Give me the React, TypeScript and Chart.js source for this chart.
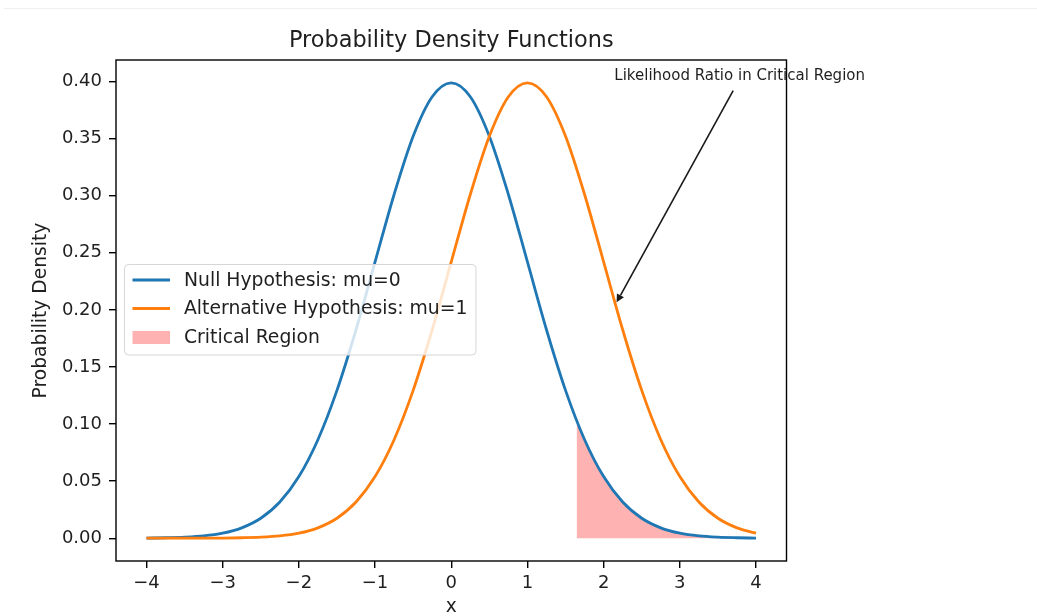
import React, { useEffect, useRef } from "react";
import { Chart, registerables } from "chart.js";

Chart.register(...registerables);

// ---- data ----
const xValues = [
  -4, -3.75, -3.5, -3.25, -3, -2.75, -2.5, -2.25, -2, -1.75, -1.5, -1.25, -1, -0.75, -0.5, -0.25, 0,
  0.25, 0.5, 0.75, 1, 1.25, 1.5, 1.75, 2, 2.25, 2.5, 2.75, 3, 3.25, 3.5, 3.75, 4,
];
const nullDensity = [
  0.0001, 0.0004, 0.0009, 0.002, 0.0044, 0.0091, 0.0175, 0.0317, 0.054, 0.0863, 0.1295, 0.1826, 0.242,
  0.3011, 0.3521, 0.3867, 0.3989, 0.3867, 0.3521, 0.3011, 0.242, 0.1826, 0.1295, 0.0863, 0.054, 0.0317,
  0.0175, 0.0091, 0.0044, 0.002, 0.0009, 0.0004, 0.0001,
];
const altDensity = [
  0.0, 0.0, 0.0, 0.0, 0.0001, 0.0004, 0.0009, 0.002, 0.0044, 0.0091, 0.0175, 0.0317, 0.054, 0.0863,
  0.1295, 0.1826, 0.242, 0.3011, 0.3521, 0.3867, 0.3989, 0.3867, 0.3521, 0.3011, 0.242, 0.1826, 0.1295,
  0.0863, 0.054, 0.0317, 0.0175, 0.0091, 0.0044,
];
const criticalX = [1.645, 1.75, 2, 2.25, 2.5, 2.75, 3, 3.25, 3.5, 3.75, 4];
const criticalDensity = [0.1031, 0.0863, 0.054, 0.0317, 0.0175, 0.0091, 0.0044, 0.002, 0.0009, 0.0004, 0.0001];
const xTicks = [-4, -3, -2, -1, 0, 1, 2, 3, 4];
const yTicks = [0, 0.05, 0.1, 0.15, 0.2, 0.25, 0.3, 0.35, 0.4];
const seriesLabels = ["Null Hypothesis: mu=0", "Alternative Hypothesis: mu=1", "Critical Region"];
const chartTitle = "Probability Density Functions";
const annotationText = "Likelihood Ratio in Critical Region";
const annotationTextAt = [2.14, 0.405];
const arrowTail = [3.7, 0.392];
const arrowTip = [2.17, 0.2066];

const FONT = "'DejaVu Sans', 'Liberation Sans', sans-serif";
const TEXT = "#1f1f1f";
const BLUE = "#1f77b4";
const ORANGE = "#ff7f0e";
const RED_FILL = "rgba(255, 0, 0, 0.3)";

const frameAndExtras = {
  id: "frameAndExtras",
  afterDatasetsDraw(chart: any) {
    const { ctx, chartArea, scales } = chart;
    const xs = scales.x;
    const ys = scales.y;
    ctx.save();
    // frame
    ctx.strokeStyle = "#000";
    ctx.lineWidth = 1.4;
    ctx.strokeRect(chartArea.left, chartArea.top, chartArea.right - chartArea.left, chartArea.bottom - chartArea.top);

    // title, centred over the plot area
    ctx.fillStyle = TEXT;
    ctx.font = `22.4px ${FONT}`;
    ctx.textAlign = "center";
    ctx.textBaseline = "middle";
    ctx.fillText(chartTitle, (chartArea.left + chartArea.right) / 2, chartArea.top - 19);

    // annotation arrow
    const tx = xs.getPixelForValue(arrowTail[0]);
    const ty = ys.getPixelForValue(arrowTail[1]);
    const hx = xs.getPixelForValue(arrowTip[0]);
    const hy = ys.getPixelForValue(arrowTip[1]);
    const ang = Math.atan2(hy - ty, hx - tx);
    const headLen = 8;
    const headW = 4;
    const bx = hx - headLen * Math.cos(ang);
    const by = hy - headLen * Math.sin(ang);
    ctx.strokeStyle = "#1a1a1a";
    ctx.fillStyle = "#1a1a1a";
    ctx.lineWidth = 1.6;
    ctx.beginPath();
    ctx.moveTo(tx, ty);
    ctx.lineTo(bx, by);
    ctx.stroke();
    ctx.beginPath();
    ctx.moveTo(hx, hy);
    ctx.lineTo(bx + headW * Math.sin(ang), by - headW * Math.cos(ang));
    ctx.lineTo(bx - headW * Math.sin(ang), by + headW * Math.cos(ang));
    ctx.closePath();
    ctx.fill();

    // annotation text
    ctx.fillStyle = TEXT;
    ctx.font = `15px ${FONT}`;
    ctx.textAlign = "left";
    ctx.textBaseline = "middle";
    ctx.fillText(annotationText, xs.getPixelForValue(annotationTextAt[0]), ys.getPixelForValue(annotationTextAt[1]));

    // legend
    const fs = 18.8;
    ctx.font = `${fs}px ${FONT}`;
    const left = chartArea.left + 8.5;
    const top = 264.5;
    const textX = left + 59.5;
    let maxW = 0;
    seriesLabels.forEach((l) => (maxW = Math.max(maxW, ctx.measureText(l).width)));
    const w = textX + maxW + 8.5 - left;
    const h = 90.5;
    const r = 4;
    ctx.beginPath();
    ctx.moveTo(left + r, top);
    ctx.lineTo(left + w - r, top);
    ctx.arcTo(left + w, top, left + w, top + r, r);
    ctx.lineTo(left + w, top + h - r);
    ctx.arcTo(left + w, top + h, left + w - r, top + h, r);
    ctx.lineTo(left + r, top + h);
    ctx.arcTo(left, top + h, left, top + h - r, r);
    ctx.lineTo(left, top + r);
    ctx.arcTo(left, top, left + r, top, r);
    ctx.closePath();
    ctx.fillStyle = "rgba(255,255,255,0.8)";
    ctx.fill();
    ctx.strokeStyle = "#d6d6d6";
    ctx.lineWidth = 1;
    ctx.stroke();

    const rows = [top + 15.5, top + 44, top + 73];
    const hl = left + 8;
    const hr = left + 45.5;
    ctx.lineWidth = 2.8;
    ctx.strokeStyle = BLUE;
    ctx.beginPath();
    ctx.moveTo(hl, rows[0]);
    ctx.lineTo(hr, rows[0]);
    ctx.stroke();
    ctx.strokeStyle = ORANGE;
    ctx.beginPath();
    ctx.moveTo(hl, rows[1]);
    ctx.lineTo(hr, rows[1]);
    ctx.stroke();
    ctx.fillStyle = RED_FILL;
    ctx.fillRect(hl, rows[2] - 6.5, hr - hl, 13);
    ctx.fillStyle = TEXT;
    ctx.textBaseline = "middle";
    seriesLabels.forEach((l, i) => ctx.fillText(l, textX, rows[i] + 1));
    ctx.restore();
  },
};

export default function App() {
  const ref = useRef<HTMLCanvasElement | null>(null);
  useEffect(() => {
    if (!ref.current) return;
    const nullPts = xValues.map((x, i) => ({ x, y: nullDensity[i] }));
    const altPts = xValues.map((x, i) => ({ x, y: altDensity[i] }));
    const critPts = criticalX.map((x, i) => ({ x, y: criticalDensity[i] }));
    const chart = new Chart(ref.current, {
      type: "line",
      data: {
        datasets: [
          {
            label: seriesLabels[0],
            data: nullPts,
            borderColor: BLUE,
            borderWidth: 2.8,
            pointRadius: 0,
            cubicInterpolationMode: "monotone",
            fill: false,
            order: 1,
          },
          {
            label: seriesLabels[1],
            data: altPts,
            borderColor: ORANGE,
            borderWidth: 2.8,
            pointRadius: 0,
            cubicInterpolationMode: "monotone",
            fill: false,
            order: 0,
          },
          {
            label: seriesLabels[2],
            data: critPts,
            borderColor: "rgba(255,0,0,0.15)",
            borderWidth: 1,
            backgroundColor: RED_FILL,
            pointRadius: 0,
            cubicInterpolationMode: "monotone",
            fill: "origin",
            order: 3,
          },
        ],
      },
      options: {
        responsive: false,
        animation: false,
        devicePixelRatio: 1,
        layout: { padding: { left: 0, right: 250.5, top: 60, bottom: 0 } },
        plugins: {
          legend: { display: false },
          tooltip: { enabled: false },
          title: { display: false },
        },
        scales: {
          x: {
            type: "linear",
            min: -4.4,
            max: 4.4,
            afterFit: (s: any) => {
              s.height = 79;
            },
            afterBuildTicks: (s: any) => {
              s.ticks = xTicks.map((v) => ({ value: v }));
            },
            ticks: {
              color: TEXT,
              font: { family: FONT, size: 18 },
              padding: 5,
              maxRotation: 0,
              autoSkip: false,
              callback: (v: any) => (Number(v) < 0 ? "\u2212" + Math.abs(Number(v)) : String(v)),
            },
            grid: { drawOnChartArea: false, drawTicks: true, tickLength: 7, color: "#000", lineWidth: 1.4 },
            border: { display: false },
            title: {
              display: true,
              text: "x",
              color: TEXT,
              font: { family: FONT, size: 18.7 },
              padding: { top: 0, bottom: 22 },
            },
          },
          y: {
            type: "linear",
            min: -0.01995,
            max: 0.41889,
            afterFit: (s: any) => {
              s.width = 116;
            },
            afterBuildTicks: (s: any) => {
              s.ticks = yTicks.map((v) => ({ value: v }));
            },
            ticks: {
              color: TEXT,
              font: { family: FONT, size: 18 },
              padding: 7,
              autoSkip: false,
              callback: (v: any) => Number(v).toFixed(2),
            },
            grid: { drawOnChartArea: false, drawTicks: true, tickLength: 7, color: "#000", lineWidth: 1.4 },
            border: { display: false },
            title: {
              display: true,
              text: "Probability Density",
              color: TEXT,
              font: { family: FONT, size: 18.7 },
              padding: { top: 30, bottom: 0 },
            },
          },
        },
      },
      plugins: [frameAndExtras],
    });
    return () => chart.destroy();
  }, []);

  return (
    <div style={{ position: "absolute", left: 0, top: 0, width: 1037, height: 616, overflow: "hidden", background: "#fff" }}>
      <div style={{ position: "absolute", left: 4, right: 0, top: 8, height: 1, background: "#efefef" }} />
      <canvas ref={ref} width={1037} height={640} style={{ position: "absolute", left: 0, top: 0, width: 1037, height: 640 }} />
    </div>
  );
}
